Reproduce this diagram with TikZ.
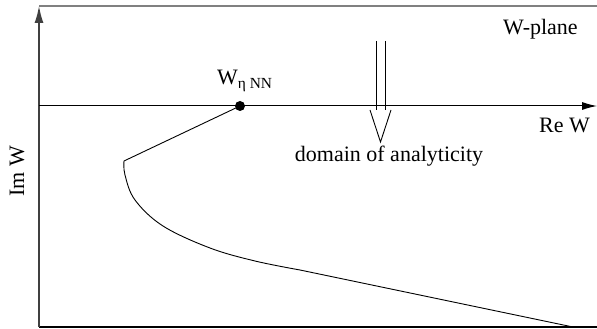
\documentclass[tikz,border=0pt]{standalone}
\usepackage{fontspec}
\setmainfont{Liberation Serif}
\newfontfamily\timesfont{Liberation Serif}
\usetikzlibrary{arrows.meta,positioning,calc}

\begin{document}
\begin{tikzpicture}[
  x=1pt, y=1pt,
  font=\timesfont\fontsize{22}{26}\selectfont,
  axis/.style={line width=1pt},
  frame/.style={line width=1.5pt},
  ax/.style={-{Latex[length=17pt,width=9pt]}},
  curve/.style={line width=0.9pt},
  lbl/.style={inner sep=0pt}
]
\useasboundingbox (0,0) rectangle (597,329);

% frame and axes
\coordinate (org) at (39,2);
\coordinate (top) at (39,323);
\coordinate (tr)  at (597,323);
\coordinate (br)  at (597,2);
\coordinate (rel) at (39,223);
\coordinate (rer) at (597,223);
\draw[frame, black!50] (top) -- (tr);
\draw[frame] (org) -- (br);
\draw[frame, black!75, ax] (org) -- (top);
\draw[axis, {-Latex[length=15pt,width=8pt]}] (rel) -- (rer);

% point and contour
\node[circle, fill, inner sep=0pt, minimum size=10pt] (wnn) at (240,223) {};
\coordinate (tip) at (124,168);
\coordinate (low) at (573,2);
\draw[curve] (wnn.center) -- (tip);
\draw[curve] plot[smooth, tension=0.6] coordinates
  {(124,168) (125,154) (135,129) (163,103) (210,81) (255,68) (300,59)} -- (low);

% double arrow into the domain
\coordinate (da) at (376,288);
\coordinate (db) at (385,288);
\coordinate (dtip) at (380.5,187);
\draw[curve] (da) -- (376,219);
\draw[curve] (db) -- (385,219);
\draw[curve] (370,219) -- (dtip) -- (391,219);

% labels
\node[lbl, anchor=base west] (wlab) at (217,244) {W\textsubscript{η NN}};
\node[lbl, anchor=base east] (rew) at (590,196) {Re W};
\node[lbl, rotate=90] (imw) at (17,158) {Im W};
\node[lbl, anchor=base] (dom) at (389,167) {domain of analyticity};
\node[lbl, anchor=base west] (wpl) at (503,294) {W-plane};
\end{tikzpicture}
\end{document}
